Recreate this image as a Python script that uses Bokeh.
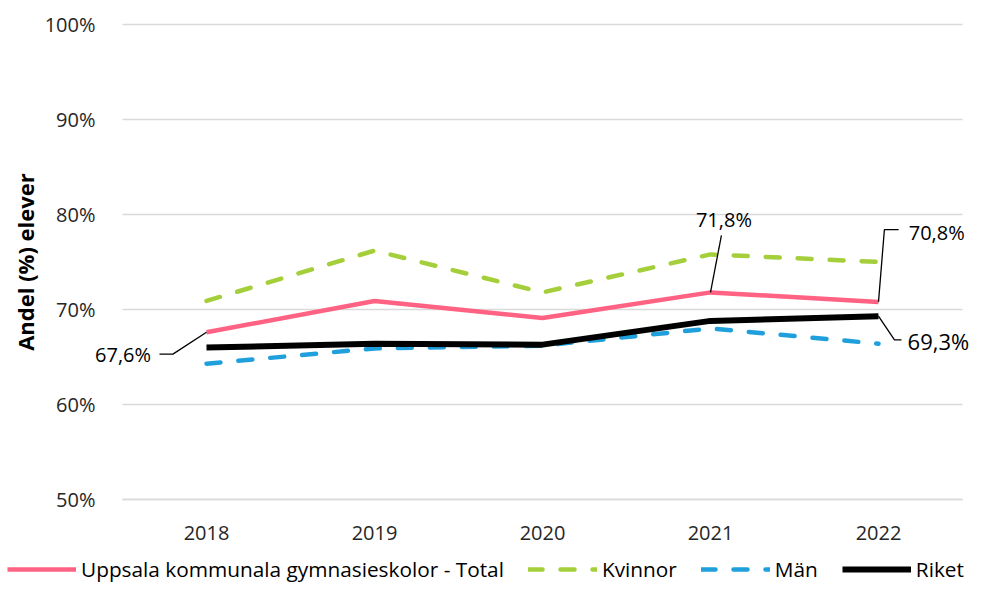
from bokeh.plotting import figure
from bokeh.models import FixedTicker, Legend, LegendItem, Range1d, Label
from bokeh.embed import file_html
from bokeh.resources import INLINE

# ---- data ----
years = ["2018", "2019", "2020", "2021", "2022"]
total = [67.6, 70.9, 69.1, 71.8, 70.8]
kvinnor = [70.9, 76.2, 71.8, 75.8, 75.0]
man = [64.3, 65.9, 66.2, 68.0, 66.4]
riket = [66.0, 66.4, 66.3, 68.8, 69.3]
y_ticks = [50, 60, 70, 80, 90, 100]
y_tick_labels = ["50%", "60%", "70%", "80%", "90%", "100%"]
series_names = ["Uppsala kommunala gymnasieskolor - Total", "Kvinnor", "Män", "Riket"]

FONT = "Open Sans"
STYLES = [
    dict(line_color="#FF6282", line_width=4.5),
    dict(line_color="#A5CF3A", line_width=4.5, line_dash="14 18", line_cap="round"),
    dict(line_color="#1FA0DC", line_width=4.5, line_dash="14 18", line_cap="round"),
    dict(line_color="#000000", line_width=6),
]
xs = list(range(len(years)))

# layout geometry (pixels) -> ranges so that the frame covers the whole canvas
W, H = 969, 583
PL, PR, PT, PB = 122, 962, 24, 499          # plot-area edges in px
X0, X1, Y0, Y1 = -0.5, 4.5, 50, 100
kx = (X1 - X0) / (PR - PL)
ky = (Y1 - Y0) / (PB - PT)
xr = Range1d(X0 - PL * kx, X1 + (W - PR) * kx)
yr = Range1d(Y0 - (H - PB) * ky, Y1 + PT * ky)

p = figure(width=W, height=H, x_range=xr, y_range=yr,
           output_backend="svg", toolbar_location=None,
           min_border_left=0, min_border_right=0, min_border_top=0, min_border_bottom=0)
p.outline_line_color = None
p.xgrid.grid_line_color = None
p.ygrid.grid_line_color = None

# horizontal gridlines limited to the plot area, at the y ticks
p.segment(x0=[X0] * len(y_ticks), x1=[X1] * len(y_ticks), y0=y_ticks, y1=y_ticks,
          line_color="#d9d9d9", line_width=1.5)

p.yaxis.ticker = FixedTicker(ticks=y_ticks)
p.yaxis.major_label_overrides = {t: l for t, l in zip(y_ticks, y_tick_labels)}
p.xaxis.ticker = FixedTicker(ticks=xs)
p.xaxis.major_label_overrides = {i: y for i, y in zip(xs, years)}
p.xaxis.fixed_location = Y0
p.yaxis.fixed_location = X0
p.xaxis.bounds = (X0, X1)
p.yaxis.bounds = (Y0, Y1)
for ax in (p.xaxis, p.yaxis):
    ax.major_tick_line_color = None
    ax.minor_tick_line_color = None
    ax.major_label_text_font = FONT
    ax.major_label_text_font_size = "20px"
    ax.major_label_text_color = "#262626"
p.yaxis.axis_line_color = None
p.xaxis.axis_line_color = "#d9d9d9"
p.xaxis.axis_line_width = 1.5
p.yaxis.major_label_standoff = 21
p.xaxis.major_label_standoff = 20
p.yaxis.axis_label = "Andel (%) elever"
p.yaxis.axis_label_text_font = FONT
p.yaxis.axis_label_text_font_style = "bold"
p.yaxis.axis_label_text_font_size = "22px"
p.yaxis.axis_label_text_color = "#000000"
p.yaxis.axis_label_standoff = 2

rends = [p.line(xs, vals, **st) for vals, st in zip([total, kvinnor, man, riket], STYLES)]

def fmt(v):
    return f"{v:.1f}%".replace(".", ",")

def add_label(x, y, txt, align, size="20px"):
    p.add_layout(Label(x=x, y=y, text=txt, text_align=align, text_baseline="middle",
                       text_font=FONT, text_font_size=size, text_color="#000000"))

lc = "#000000"
# 2018 total
i = 0
p.line([xs[i], xs[i] - 0.2, xs[i] - 0.28], [total[i], total[i] - 2.3, total[i] - 2.3], line_color=lc, line_width=1.3)
add_label(xs[i] - 0.33, total[i] - 2.3, fmt(total[i]), "right")
# 2021 total
i = 3
p.line([xs[i], xs[i] + 0.065], [total[i], total[i] + 6.0], line_color=lc, line_width=1.3)
add_label(xs[i] + 0.08, total[i] + 7.7, fmt(total[i]), "center")
# 2022 total
i = 4
p.line([xs[i], xs[i] + 0.035, xs[i] + 0.12], [total[i], total[i] + 7.6, total[i] + 7.6], line_color=lc, line_width=1.3)
add_label(xs[i] + 0.18, total[i] + 7.3, fmt(total[i]), "left")
# 2022 riket
p.line([xs[i], xs[i] + 0.095, xs[i] + 0.137], [riket[i], riket[i] - 2.5, riket[i] - 2.5], line_color=lc, line_width=1.3)
add_label(xs[i] + 0.173, riket[i] - 2.6, fmt(riket[i]), "left", "22px")

legend = Legend(items=[LegendItem(label=n, renderers=[r]) for n, r in zip(series_names, rends)],
                orientation="horizontal", location=(7, 0),
                glyph_width=69, glyph_height=18, label_height=18, label_standoff=5,
                spacing=24, padding=0, margin=0, border_line_color=None,
                background_fill_alpha=0, label_text_font=FONT, label_text_font_size="20.8px",
                label_text_color="#000000")
p.add_layout(legend)

open("out.html", "w").write(file_html(p, INLINE))
